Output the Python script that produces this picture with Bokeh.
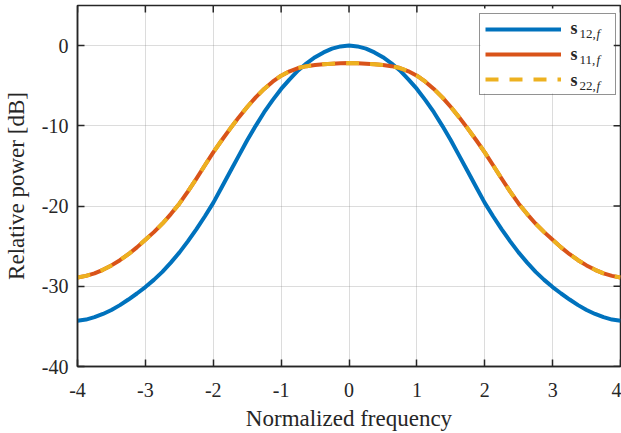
from bokeh.plotting import figure
from bokeh.models import (Range1d, FixedTicker, Legend, LegendItem, Label, BoxAnnotation)
from bokeh.embed import file_html
from bokeh.resources import INLINE
import math

# ---- data ----
freq = [-4.0, -3.875, -3.75, -3.625, -3.5, -3.375, -3.25, -3.125, -3.0, -2.875, -2.75, -2.625,
        -2.5, -2.375, -2.25, -2.125, -2.0, -1.875, -1.75, -1.625, -1.5, -1.375, -1.25, -1.125,
        -1.0, -0.875, -0.75, -0.625, -0.5, -0.375, -0.25, -0.125, 0.0,
        0.125, 0.25, 0.375, 0.5, 0.625, 0.75, 0.875, 1.0, 1.125, 1.25, 1.375, 1.5, 1.625, 1.75,
        1.875, 2.0, 2.125, 2.25, 2.375, 2.5, 2.625, 2.75, 2.875, 3.0, 3.125, 3.25, 3.375, 3.5,
        3.625, 3.75, 3.875, 4.0]
s12 = [-34.3, -34.15, -33.85, -33.45, -32.95, -32.35, -31.65, -30.9, -30.1, -29.2, -28.2, -27.05,
       -25.8, -24.4, -22.9, -21.3, -19.6, -17.65, -15.7, -13.75, -11.8, -10.0, -8.3, -6.8,
       -5.4, -4.2, -3.1, -2.2, -1.45, -0.85, -0.38, -0.1, 0.0,
       -0.1, -0.38, -0.85, -1.45, -2.2, -3.1, -4.2, -5.4, -6.8, -8.3, -10.0, -11.8, -13.75, -15.7,
       -17.65, -19.6, -21.3, -22.9, -24.4, -25.8, -27.05, -28.2, -29.2, -30.1, -30.9, -31.65, -32.35, -32.95,
       -33.45, -33.85, -34.15, -34.3]
s11 = [-28.9, -28.7, -28.4, -27.95, -27.4, -26.75, -26.0, -25.15, -24.2, -23.25, -22.2, -21.0,
       -19.7, -18.2, -16.6, -14.95, -13.3, -11.8, -10.35, -8.95, -7.65, -6.45, -5.4, -4.5,
       -3.75, -3.2, -2.8, -2.56, -2.42, -2.32, -2.26, -2.2, -2.18,
       -2.2, -2.26, -2.32, -2.42, -2.56, -2.8, -3.2, -3.75, -4.5, -5.4, -6.45, -7.65, -8.95, -10.35,
       -11.8, -13.3, -14.95, -16.6, -18.2, -19.7, -21.0, -22.2, -23.25, -24.2, -25.15, -26.0, -26.75, -27.4,
       -27.95, -28.4, -28.7, -28.9]
s22 = [-28.9, -28.7, -28.4, -27.95, -27.4, -26.75, -26.0, -25.15, -24.2, -23.25, -22.2, -21.0,
       -19.7, -18.2, -16.6, -14.95, -13.3, -11.8, -10.35, -8.95, -7.65, -6.45, -5.4, -4.5,
       -3.75, -3.2, -2.8, -2.56, -2.42, -2.32, -2.26, -2.2, -2.18,
       -2.2, -2.26, -2.32, -2.42, -2.56, -2.8, -3.2, -3.75, -4.5, -5.4, -6.45, -7.65, -8.95, -10.35,
       -11.8, -13.3, -14.95, -16.6, -18.2, -19.7, -21.0, -22.2, -23.25, -24.2, -25.15, -26.0, -26.75, -27.4,
       -27.95, -28.4, -28.7, -28.9]

x_ticks = [-4, -3, -2, -1, 0, 1, 2, 3, 4]
x_tick_labels = ["-4", "-3", "-2", "-1", "0", "1", "2", "3", "4"]
y_ticks = [-40, -30, -20, -10, 0]
y_tick_labels = ["-40", "-30", "-20", "-10", "0"]

series_sub = ["12,", "11,", "22,"]
X_MIN, X_MAX, Y_MIN, Y_MAX = -4, 4, -40, 5

FONT = "Liberation Serif"
BLUE, ORANGE, YELLOW = "#0072BD", "#D95319", "#EDB120"
AX = "#262626"

p = figure(width=621, height=433, output_backend="svg", toolbar_location=None,
           x_range=Range1d(X_MIN, X_MAX), y_range=Range1d(Y_MIN, Y_MAX),
           min_border_left=74, min_border_right=1, min_border_top=5, min_border_bottom=65,
           background_fill_color="white", border_fill_color="white")
p.outline_line_color = AX
p.outline_line_width = 1.5

xa = p.xaxis[0]
ya = p.yaxis[0]
for ax, ticks, labels in ((xa, x_ticks, x_tick_labels), (ya, y_ticks, y_tick_labels)):
    ax.ticker = FixedTicker(ticks=ticks)
    ax.major_label_overrides = {t: l for t, l in zip(ticks, labels)}
    ax.major_tick_in = 7
    ax.major_tick_out = 0
    ax.minor_tick_in = 0
    ax.minor_tick_out = 0
    ax.major_tick_line_color = AX
    ax.major_tick_line_width = 1.5
    ax.axis_line_color = AX
    ax.axis_line_width = 1.5
    ax.major_label_text_font = FONT
    ax.major_label_text_color = AX
    ax.major_label_text_font_size = "20px"
    ax.axis_label_text_font = FONT
    ax.axis_label_text_font_size = "23px"
    ax.axis_label_text_font_style = "normal"
    ax.axis_label_text_color = AX
xa.major_label_standoff = 16
ya.major_label_standoff = 9
xa.axis_label = "Normalized frequency"
ya.axis_label = "Relative power [dB]"
xa.axis_label_standoff = 6
ya.axis_label_standoff = 10

for g in (p.xgrid[0], p.ygrid[0]):
    g.grid_line_color = "#8a8a8a"
    g.grid_line_alpha = 0.6
    g.grid_line_dash = "1 1"
    g.grid_line_width = 1
p.xgrid[0].ticker = FixedTicker(ticks=x_ticks)
p.ygrid[0].ticker = FixedTicker(ticks=y_ticks)

# tick marks on the top and right edges of the box (clipped to the frame, half visible)
p.scatter(x_ticks, [Y_MAX] * len(x_ticks), marker="dash", size=14, angle=math.pi / 2,
          line_color=AX, line_width=1.5)
p.scatter([X_MAX] * len(y_ticks), y_ticks, marker="dash", size=14,
          line_color=AX, line_width=1.5)

r12 = p.line(freq, s12, line_color=BLUE, line_width=4, line_join="round")
r11 = p.line(freq, s11, line_color=ORANGE, line_width=4, line_join="round")
r22 = p.line(freq, s22, line_color=YELLOW, line_width=4, line_dash="13 11", line_join="round")

# white backing for the legend box
p.add_layout(BoxAnnotation(left=403, right=536, bottom=273, top=358,
                           left_units="screen", right_units="screen",
                           bottom_units="screen", top_units="screen",
                           fill_color="white", fill_alpha=1.0, line_color=None, level="glyph"))

legend = Legend(items=[LegendItem(label=" ", renderers=[r]) for r in (r12, r11, r22)],
                location=(402, 271), orientation="vertical",
                glyph_width=76, glyph_height=20, label_height=20, label_width=40,
                label_standoff=9, spacing=5, padding=5, margin=0,
                border_line_color=AX, border_line_width=1.2,
                background_fill_alpha=0.0,
                label_text_font=FONT, label_text_font_size="1px")
p.add_layout(legend, "center")

s_base = [338.5, 312.5, 286.5]
sub_base = [333, 307, 281]
for ys, yb, sub in zip(s_base, sub_base, series_sub):
    p.add_layout(Label(x=493, y=ys, x_units="screen", y_units="screen", text="s",
                       text_font=FONT, text_font_style="bold", text_font_size="18px",
                       text_color=AX, text_baseline="alphabetic"))
    p.add_layout(Label(x=502, y=yb, x_units="screen", y_units="screen", text=sub,
                       text_font=FONT, text_font_size="13px",
                       text_color=AX, text_baseline="alphabetic"))
    p.add_layout(Label(x=519, y=yb, x_units="screen", y_units="screen", text="f",
                       text_font=FONT, text_font_style="italic", text_font_size="13px",
                       text_color=AX, text_baseline="alphabetic"))

open("out.html", "w").write(file_html(p, INLINE))
